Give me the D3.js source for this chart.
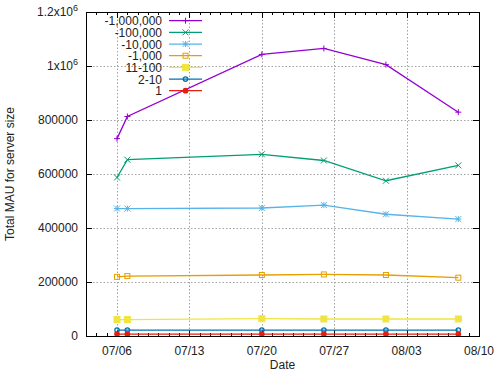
<!DOCTYPE html>
<html>
<head>
<meta charset="utf-8">
<script src="https://cdn.jsdelivr.net/npm/d3@7"></script>
<style>
  body { margin: 0; background: white; }
  svg { font-family: "Liberation Sans", Arial, sans-serif; }
</style>
</head>
<body>
<script>
// dates of each sample
let dates = ["2023-07-06", "2023-07-07", "2023-07-20", "2023-07-26", "2023-08-01", "2023-08-08"];

// series names as in the legend
let seriesNames = ["-1,000,000", "-100,000", "-10,000", "-1,000", "11-100", "2-10", "1"];

// MAU values, one array per server size
let mau1000000 = [731000, 813000, 1043000, 1065000, 1005000, 829000];
let mau100000 = [587000, 653000, 673000, 650000, 575000, 632000];
let mau10000 = [472000, 472000, 474000, 485000, 451000, 433000];
let mau1000 = [219000, 222000, 226000, 228000, 226000, 216000];
let mau100 = [61000, 61000, 64000, 63000, 63000, 63000];
let mau10 = [22000, 22000, 22000, 22000, 22000, 22000];
let mau1 = [7000, 7000, 7000, 7000, 7000, 7000];

let yTicks = [0, 200000, 400000, 600000, 800000, 1000000, 1200000];
let xTicks = ["2023-07-06", "2023-07-13", "2023-07-20", "2023-07-27", "2023-08-03", "2023-08-10"];

let allSeries = [mau1000000, mau100000, mau10000, mau1000, mau100, mau10, mau1];
let colors = ["#9400d3", "#009e73", "#56b4e9", "#e69f00", "#f0e442", "#0072b2", "#e51e10"];
let pointTypes = ["plus", "cross", "star", "square", "fsquare", "circle", "fcircle"];

let parse = d3.utcParse("%Y-%m-%d");
let fmt = d3.utcFormat("%m/%d");

let width = 500, height = 375;
let margin = {left: 86, right: 21, top: 12, bottom: 39};

let svg = d3.select("body").append("svg")
    .attr("width", width)
    .attr("height", height);

let x = d3.scaleUtc()
    .domain([parse("2023-07-03"), parse("2023-08-10")])
    .range([margin.left, width - margin.right]);

let y = d3.scaleLinear()
    .domain([0, 1200000])
    .range([height - margin.bottom, margin.top]);

let x0 = margin.left, x1 = width - margin.right;
let y0 = height - margin.bottom, y1 = margin.top;

// grid lines
let grid = svg.append("g").attr("stroke", "#a0a0a0").attr("stroke-width", 1).attr("stroke-dasharray", "1.5,2");
xTicks.forEach(t => {
    let px = Math.round(x(parse(t))) + 0.5;
    grid.append("line").attr("x1", px).attr("x2", px).attr("y1", y0).attr("y2", y1);
});
yTicks.forEach(t => {
    let py = Math.round(y(t)) + 0.5;
    grid.append("line").attr("x1", x0).attr("x2", x1).attr("y1", py).attr("y2", py);
});

// ticks, mirrored on all sides
let ticks = svg.append("g").attr("stroke", "black").attr("stroke-width", 1);
d3.utcDay.range(parse("2023-07-03"), parse("2023-08-11")).forEach(d => {
    let px = Math.round(x(d)) + 0.5;
    let major = xTicks.indexOf(d3.utcFormat("%Y-%m-%d")(d)) >= 0;
    let len = major ? 6 : 3;
    ticks.append("line").attr("x1", px).attr("x2", px).attr("y1", y0).attr("y2", y0 - len);
    ticks.append("line").attr("x1", px).attr("x2", px).attr("y1", y1).attr("y2", y1 + len);
});
yTicks.forEach(t => {
    let py = Math.round(y(t)) + 0.5;
    ticks.append("line").attr("x1", x0).attr("x2", x0 + 6).attr("y1", py).attr("y2", py);
    ticks.append("line").attr("x1", x1).attr("x2", x1 - 6).attr("y1", py).attr("y2", py);
});

// tick labels
xTicks.forEach(t => {
    svg.append("text")
        .attr("x", x(parse(t)))
        .attr("y", y0 + 19)
        .attr("text-anchor", "middle")
        .attr("font-size", 12)
        .attr("fill", "#222")
        .text(fmt(parse(t)));
});
yTicks.forEach(t => {
    let lbl = svg.append("text")
        .attr("x", x0 - 8)
        .attr("y", y(t) + 4)
        .attr("text-anchor", "end")
        .attr("font-size", 12)
        .attr("fill", "#222");
    if (t >= 1000000) {
        lbl.text((t / 1000000) + "x10");
        lbl.append("tspan").attr("dy", -5).attr("font-size", 9).text("6");
    } else {
        lbl.text(t);
    }
});

// axis titles
svg.append("text")
    .attr("x", (x0 + x1) / 2)
    .attr("y", height - 6)
    .attr("text-anchor", "middle")
    .attr("font-size", 12)
    .attr("fill", "#222")
    .text("Date");
svg.append("text")
    .attr("transform", "translate(14," + ((y0 + y1) / 2) + ") rotate(-90)")
    .attr("text-anchor", "middle")
    .attr("font-size", 12)
    .attr("fill", "#222")
    .text("Total MAU for server size");

// point symbols like gnuplot's
function drawPoint(g, type, px, py, color) {
    let s = 3;
    if (type == "plus" || type == "star") {
        g.append("line").attr("x1", px - s).attr("x2", px + s).attr("y1", py).attr("y2", py).attr("stroke", color);
        g.append("line").attr("x1", px).attr("x2", px).attr("y1", py - s).attr("y2", py + s).attr("stroke", color);
    }
    if (type == "cross" || type == "star") {
        g.append("line").attr("x1", px - s).attr("x2", px + s).attr("y1", py - s).attr("y2", py + s).attr("stroke", color);
        g.append("line").attr("x1", px - s).attr("x2", px + s).attr("y1", py + s).attr("y2", py - s).attr("stroke", color);
    }
    if (type == "square" || type == "fsquare") {
        let q = type == "fsquare" ? 3 : 2.5;
        g.append("rect").attr("x", px - q).attr("y", py - q).attr("width", 2 * q).attr("height", 2 * q)
            .attr("fill", type == "fsquare" ? color : "none").attr("stroke", color);
    }
    if (type == "circle" || type == "fcircle") {
        g.append("circle").attr("cx", px).attr("cy", py).attr("r", 2.2)
            .attr("fill", type == "fcircle" ? color : "none").attr("stroke", color).attr("stroke-width", 1.3);
    }
}

let line = d3.line()
    .x((d, i) => x(parse(dates[i])))
    .y(d => y(d));

// series
allSeries.forEach((vals, k) => {
    let g = svg.append("g");
    g.append("path")
        .attr("d", line(vals))
        .attr("fill", "none")
        .attr("stroke", colors[k])
        .attr("stroke-width", 1.3);
    vals.forEach((v, i) => drawPoint(g, pointTypes[k], x(parse(dates[i])), y(v), colors[k]));
});

// legend
let leg = svg.append("g");
seriesNames.forEach((name, k) => {
    let ly = 20.7 + k * 11.67;
    leg.append("text")
        .attr("x", 162)
        .attr("y", ly + 4.5)
        .attr("text-anchor", "end")
        .attr("font-size", 12)
        .attr("fill", "#222")
        .text(name);
    leg.append("line")
        .attr("x1", 169).attr("x2", 202)
        .attr("y1", ly).attr("y2", ly)
        .attr("stroke", colors[k])
        .attr("stroke-width", 1.3);
    drawPoint(leg, pointTypes[k], 185.5, ly, colors[k]);
});

// border
svg.append("rect")
    .attr("x", x0 + 0.5).attr("y", y1 + 0.5)
    .attr("width", x1 - x0).attr("height", y0 - y1)
    .attr("fill", "none")
    .attr("stroke", "black");
</script>
</body>
</html>
